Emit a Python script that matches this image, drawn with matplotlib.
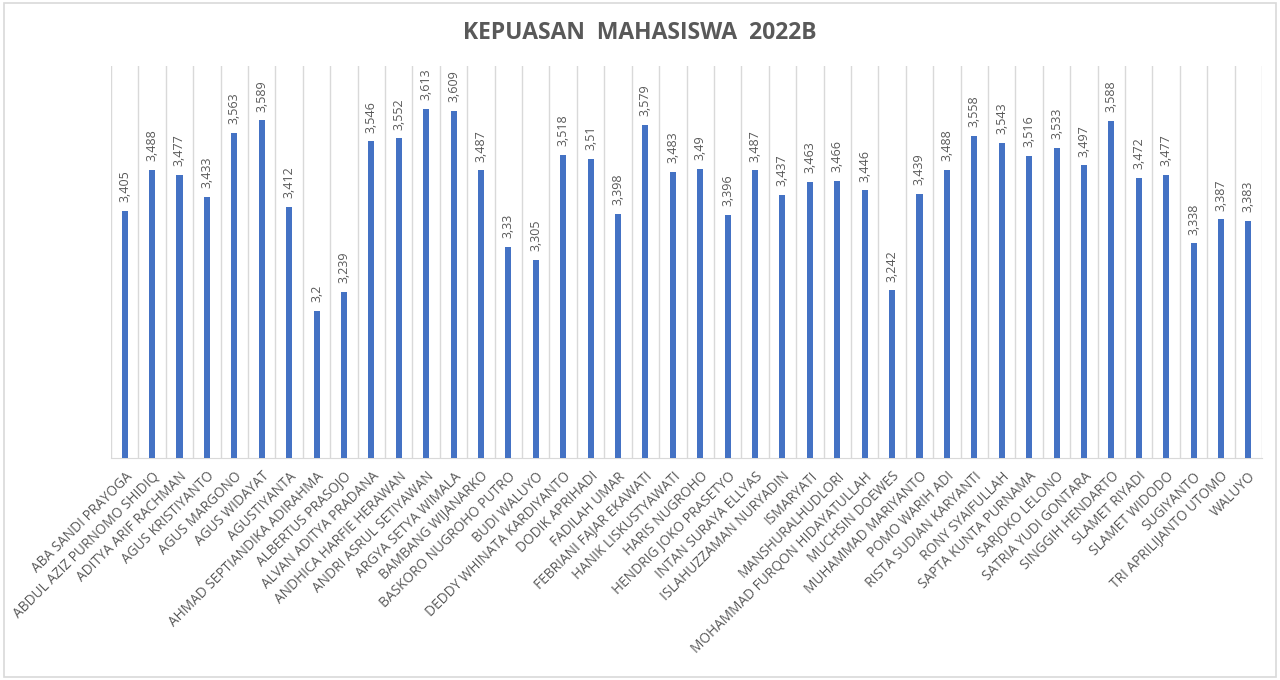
import numpy as np
import matplotlib.pyplot as plt
from matplotlib.patches import Rectangle

# data
names = [
    'ABA SANDI PRAYOGA', 'ABDUL AZIZ PURNOMO SHIDIQ', 'ADITYA ARIF RACHMAN',
    'AGUS KRISTIYANTO', 'AGUS MARGONO', 'AGUS WIDAYAT', 'AGUSTIYANTA',
    'AHMAD SEPTIANDIKA ADIRAHMA', 'ALBERTUS PRASOJO', 'ALVAN ADITYA PRADANA',
    'ANDHICA HARFIE HERAWAN', 'ANDRI ASRUL SETIYAWAN', 'ARGYA SETYA WIMALA',
    'BAMBANG WIJANARKO', 'BASKORO NUGROHO PUTRO', 'BUDI WALUYO',
    'DEDDY WHINATA KARDIYANTO', 'DODIK APRIHADI', 'FADILAH UMAR',
    'FEBRIANI FAJAR EKAWATI', 'HANIK LISKUSTYAWATI', 'HARIS NUGROHO',
    'HENDRIG JOKO PRASETYO', 'INTAN SURAYA ELLYAS', 'ISLAHUZZAMAN NURYADIN',
    'ISMARYATI', 'MANSHURALHUDLORI', 'MOHAMMAD FURQON HIDAYATULLAH',
    'MUCHSIN DOEWES', 'MUHAMMAD MARIYANTO', 'POMO WARIH ADI',
    'RISTA SUDIAN KARYANTI', 'RONY SYAIFULLAH', 'SAPTA KUNTA PURNAMA',
    'SARJOKO LELONO', 'SATRIA YUDI GONTARA', 'SINGGIH HENDARTO',
    'SLAMET RIYADI', 'SLAMET WIDODO', 'SUGIYANTO', 'TRI APRILIJANTO UTOMO',
    'WALUYO',
]
scores = [
    3.405, 3.488, 3.477, 3.433, 3.563, 3.589, 3.412, 3.2, 3.239, 3.546,
    3.552, 3.613, 3.609, 3.487, 3.33, 3.305, 3.518, 3.51, 3.398, 3.579,
    3.483, 3.49, 3.396, 3.487, 3.437, 3.463, 3.466, 3.446, 3.242, 3.439,
    3.488, 3.558, 3.543, 3.516, 3.533, 3.497, 3.588, 3.472, 3.477, 3.338,
    3.387, 3.383,
]

plt.rcParams['font.family'] = ['Open Sans', 'DejaVu Sans']
grey = '#595959'

fig = plt.figure(figsize=(12.8, 6.8), dpi=100)
ax = fig.add_axes([0.0867, 0.3265, 0.8993, 0.5765])

x = np.arange(len(names))
ax.bar(x, scores, width=0.22, color='#4472C4', zorder=3)

ax.set_ylim(2.9, 3.7)
ax.set_xlim(-0.5, len(names) - 0.5)

# vertical gridlines between categories
for b in np.arange(-0.5, len(names), 1.0):
    ax.axvline(b, color='#D9D9D9', lw=1, zorder=1)

for xi, v in zip(x, scores):
    label = ('%g' % v).replace('.', ',')
    ax.text(xi, v + 0.018, label, rotation=90, ha='center', va='bottom',
            fontsize=9, color=grey)

ax.set_xticks(x)
ax.set_xticklabels(names, rotation=45, ha='right', rotation_mode='anchor',
                   fontsize=9.8, color=grey)
ax.tick_params(axis='x', length=0, pad=8)
ax.set_yticks([])

for side in ['top', 'left', 'right']:
    ax.spines[side].set_visible(False)
ax.spines['bottom'].set_color('#D9D9D9')

fig.text(0.5, 0.952, 'KEPUASAN  MAHASISWA  2022B', ha='center', va='center',
         fontsize=16.5, fontweight='bold', color=grey)

# chart border
fig.patches.append(Rectangle((0.003, 0.004), 0.994, 0.992, transform=fig.transFigure,
                             fill=False, edgecolor='#D9D9D9', lw=1.2))

fig.savefig('out.png', dpi=100)
